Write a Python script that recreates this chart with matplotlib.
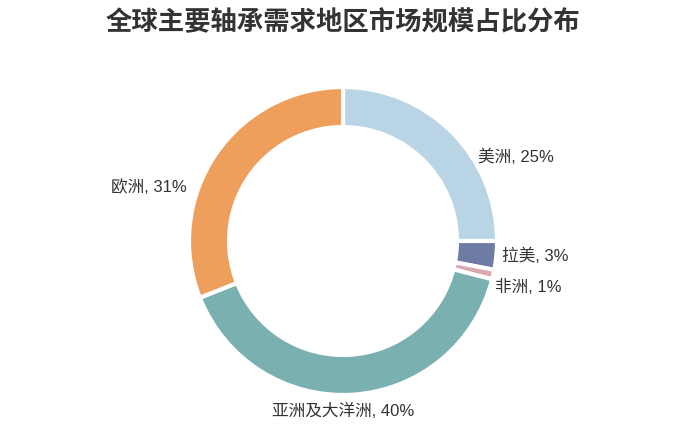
import matplotlib
matplotlib.use("Agg")
import matplotlib.pyplot as plt

plt.rcParams['font.family'] = ['Noto Sans CJK SC', 'DejaVu Sans']

regions = ['美洲', '拉美', '非洲', '亚洲及大洋洲', '欧洲']
shares = [25, 3, 1, 40, 31]
colors = ['#b9d5e5', '#6e7ba2', '#d9a9ae', '#7bb0b0', '#ee9f5b']

# label placement (data units, ring outer radius = 1)
label_pos = [(0.877, 0.545), (1.032, -0.097), (0.987, -0.299), (0.0, -1.104), (-1.013, 0.351)]
label_ha = ['left', 'left', 'left', 'center', 'right']

W, H = 695, 434
fig = plt.figure(figsize=(W / 100, H / 100), dpi=100)
ax = fig.add_axes([0, 0, 1, 1])
cx, cy, scale = 343, 241, 154
ax.set_xlim(-cx / scale, (W - cx) / scale)
ax.set_ylim(-(H - cy) / scale, cy / scale)
ax.axis('off')

ax.pie(shares, colors=colors, startangle=90, counterclock=False, radius=1,
       wedgeprops=dict(width=0.26, edgecolor='white', linewidth=3))
ax.set_xlim(-cx / scale, (W - cx) / scale)
ax.set_ylim(-(H - cy) / scale, cy / scale)
ax.set_aspect('auto')

for name, v, (x, y), ha in zip(regions, shares, label_pos, label_ha):
    ax.text(x, y, f'{name}, {v}%', ha=ha, va='center', fontsize=12, color='#333333',
            family=['Liberation Sans', 'Noto Sans CJK SC', 'DejaVu Sans'])

fig.text(343 / W, 1 - 23 / H, '全球主要轴承需求地区市场规模占比分布', ha='center', va='center',
         fontsize=19, fontweight='bold', color='#333333')

fig.savefig('out.png', dpi=100)
